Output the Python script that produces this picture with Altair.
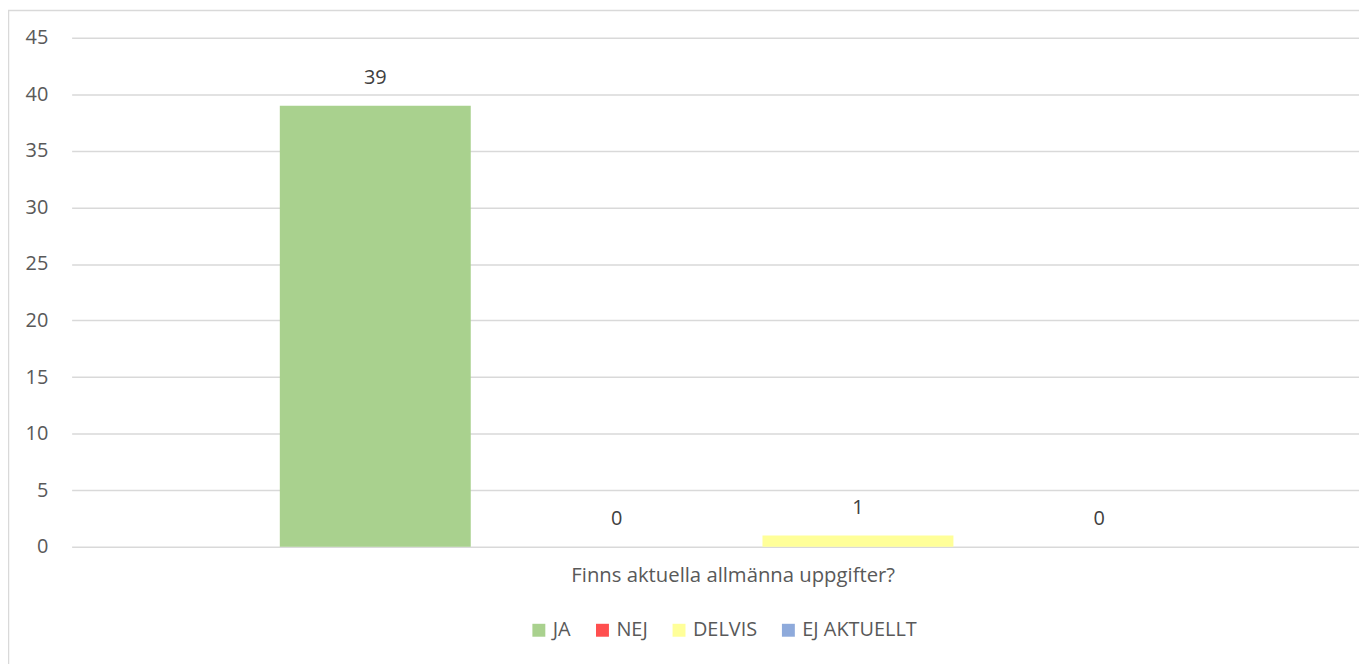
import altair as alt
import pandas as pd

series = ["JA", "NEJ", "DELVIS", "EJ AKTUELLT"]
values = [39, 0, 1, 0]
colors = ["#a9d18e", "#ff4f4f", "#ffff99", "#8eaadb"]
category = "Finns aktuella allmänna uppgifter?"
y_ticks = [0, 5, 10, 15, 20, 25, 30, 35, 40, 45]

df = pd.DataFrame({"series": series, "value": values})
frame_df = pd.DataFrame({"f": [0]})

W, H = 1295, 512
FONT = "Open Sans"
TXT = "#595959"
FS = 20

xscale = alt.Scale(domain=series, paddingInner=0.2088, paddingOuter=0.7716, align=0.559)
yscale = alt.Scale(domain=[0, 45], nice=False)

x_enc = alt.X(
    "series:N", scale=xscale, sort=series,
    axis=alt.Axis(labels=False, ticks=False, domain=False, grid=False,
                  title=category, titleX=665, titleY=29, titleBaseline="middle",
                  titleAlign="center", titleFont=FONT, titleFontSize=20.4,
                  titleFontWeight="normal", titleColor=TXT),
)
y_enc = alt.Y(
    "value:Q", scale=yscale,
    axis=alt.Axis(values=y_ticks, title=None, ticks=False, domain=False,
                  grid=True, gridColor="#d9d9d9", gridWidth=1.5,
                  labelFont=FONT, labelFontSize=FS, labelColor=TXT,
                  labelPadding=24),
)

bars = alt.Chart(df).mark_bar().encode(
    x=x_enc,
    y=y_enc,
    color=alt.Color(
        "series:N", scale=alt.Scale(domain=series, range=colors), sort=series,
        legend=alt.Legend(title=None, orient="none", legendX=460, legendY=586,
                          direction="horizontal", symbolType="square",
                          symbolSize=169, symbolStrokeWidth=0, labelFont=FONT,
                          labelFontSize=FS, labelColor=TXT, labelOffset=4,
                          columnPadding=21, padding=0),
    ),
)

labels = alt.Chart(df).mark_text(dy=-28, baseline="middle", font=FONT,
                                 fontSize=FS, color="#404040").encode(
    x=alt.X("series:N", scale=xscale, sort=series),
    y=alt.Y("value:Q", scale=yscale),
    text="value:Q",
)

frame = alt.Chart(frame_df).mark_rect(fill=None, stroke="#d9d9d9", strokeWidth=1.5).encode(
    x=alt.value(-63.5), x2=alt.value(W + 50), y=alt.value(-27.5), y2=alt.value(H + 300)
)

chart = alt.layer(frame, bars, labels).properties(
    width=W, height=H,
    padding={"left": 64, "top": 28, "right": 0, "bottom": 116},
    autosize=alt.AutoSizeParams(type="none"),
).configure_view(stroke=None)

chart.save("out.html", embed_options={"renderer": "svg", "actions": False})
